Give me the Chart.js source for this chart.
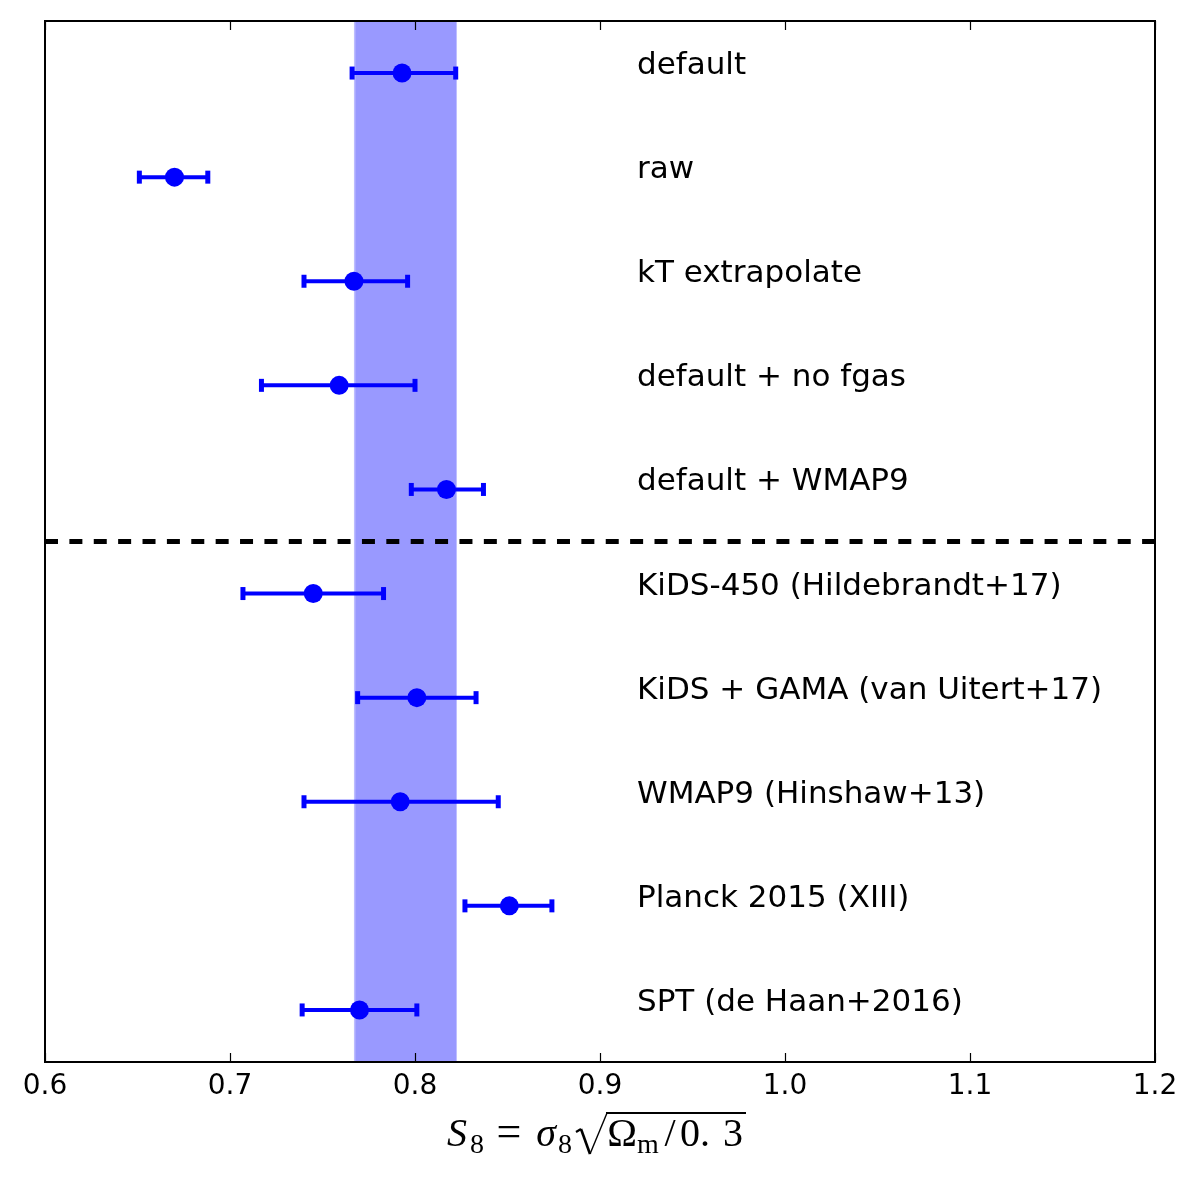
<!DOCTYPE html>
<html>
<head>
<meta charset="utf-8">
<script src="https://cdn.jsdelivr.net/npm/chart.js@4/dist/chart.umd.min.js"></script>
<style>
  html, body { margin: 0; padding: 0; background: #fff; }
  canvas { display: block; }
</style>
</head>
<body>
<canvas id="c" width="1200" height="1200"></canvas>
<script>
// ---- data ----
const categories = [
  'default',
  'raw',
  'kT extrapolate',
  'default + no fgas',
  'default + WMAP9',
  'KiDS-450 (Hildebrandt+17)',
  'KiDS + GAMA (van Uitert+17)',
  'WMAP9 (Hinshaw+13)',
  'Planck 2015 (XIII)',
  'SPT (de Haan+2016)'
];
const centers = [0.793, 0.670, 0.767, 0.759, 0.817, 0.745, 0.801, 0.792, 0.851, 0.770];
const lows    = [0.766, 0.651, 0.740, 0.717, 0.798, 0.707, 0.769, 0.740, 0.827, 0.739];
const highs   = [0.822, 0.688, 0.796, 0.800, 0.837, 0.783, 0.833, 0.845, 0.874, 0.801];
const bandRange = [0.767, 0.8225];
const separatorAt = 4.5;
const xRange = [0.6, 1.2];
const xTickStep = 0.1;
const labelAtX = 0.92;

// ---- datasets ----
const BLUE = '#0000ff';
const datasets = [];
datasets.push({
  label: 'points',
  data: centers.map((v, i) => ({ x: v, y: i })),
  showLine: false,
  pointStyle: 'circle',
  pointRadius: 9.5,
  pointBackgroundColor: BLUE,
  pointBorderColor: BLUE,
  pointBorderWidth: 0,
  order: 0
});
centers.forEach((v, i) => {
  datasets.push({
    label: 'err' + i,
    data: [{ x: lows[i], y: i }, { x: highs[i], y: i }],
    showLine: true,
    borderColor: BLUE,
    borderWidth: 4,
    pointStyle: 'line',
    rotation: 90,
    pointRadius: 6.5,
    pointBorderColor: BLUE,
    pointBorderWidth: 5,
    order: 1
  });
});
datasets.push({
  label: 'separator',
  data: [{ x: xRange[0], y: separatorAt }, { x: xRange[1], y: separatorAt }],
  showLine: true,
  borderColor: '#000',
  borderWidth: 5,
  borderDash: [13, 11.38],
  pointRadius: 0,
  order: 2
});

const decorPlugin = {
  id: 'decor',
  beforeDatasetsDraw(chart) {
    const { ctx, chartArea: a, scales: { x } } = chart;
    ctx.save();
    const x0 = x.getPixelForValue(bandRange[0]);
    const x1 = x.getPixelForValue(bandRange[1]);
    ctx.fillStyle = 'rgba(0,0,255,0.4)';
    ctx.fillRect(x0, a.top, x1 - x0, a.bottom - a.top);
    ctx.fillStyle = 'rgba(255,255,255,0.35)';
    ctx.fillRect(x0, a.top, 1.5, a.bottom - a.top);
    ctx.restore();
  },
  afterDatasetsDraw(chart) {
    const { ctx, chartArea: a, scales: { x, y } } = chart;
    ctx.save();
    // tick marks (inward, bottom and top)
    ctx.strokeStyle = '#000';
    ctx.lineWidth = 1.2;
    x.ticks.forEach(t => {
      const px = Math.round(x.getPixelForValue(t.value)) + 0.5;
      ctx.beginPath();
      ctx.moveTo(px, a.bottom); ctx.lineTo(px, a.bottom - 9);
      ctx.moveTo(px, a.top); ctx.lineTo(px, a.top + 9);
      ctx.stroke();
    });
    // frame
    ctx.lineWidth = 2;
    ctx.strokeRect(a.left, a.top, a.right - a.left, a.bottom - a.top);
    // row labels
    ctx.fillStyle = '#000';
    ctx.font = '31px "DejaVu Sans"';
    ctx.textAlign = 'left';
    ctx.textBaseline = 'alphabetic';
    const lx = x.getPixelForValue(labelAtX);
    categories.forEach((c, i) => {
      ctx.fillText(c, lx, y.getPixelForValue(i) + 1);
    });
    // axis title: S_8 = sigma_8 sqrt(Omega_m / 0.3), laid out from the plot centre
    const base = 1146;
    const serif = '"Liberation Serif", "DejaVu Serif", serif';
    const ox = (a.left + a.right) / 2 - 155; // title start
    const big = `40px ${serif}`, bigI = `italic 40px ${serif}`, sub = `28px ${serif}`;
    const pieces = [
      { t: 'S', f: bigI, dx: 12, dy: 0 },
      { t: '8', f: sub, dx: 32, dy: 7 },
      { t: '=', f: `44px ${serif}`, dx: 64, dy: 0 },
      { t: 'σ', f: bigI, dx: 101, dy: 0 },
      { t: '8', f: sub, dx: 120, dy: 7 },
      { t: 'Ω', f: big, dx: 177, dy: 0 },
      { t: 'm', f: sub, dx: 203, dy: 7 },
      { t: '/', f: big, dx: 225, dy: 0 },
      { t: '0', f: big, dx: 245, dy: 0 },
      { t: '.', f: big, dx: 260, dy: 0 },
      { t: '3', f: big, dx: 288, dy: 0 }
    ];
    ctx.textAlign = 'center';
    pieces.forEach(p => {
      ctx.font = p.f;
      ctx.fillText(p.t, ox + p.dx, base + p.dy);
    });
    // radical sign and bar
    ctx.lineJoin = 'miter';
    ctx.beginPath();
    ctx.moveTo(ox + 131, base - 14);
    ctx.lineTo(ox + 136, base - 17);
    ctx.lineWidth = 2.2;
    ctx.stroke();
    ctx.beginPath();
    ctx.lineWidth = 2.6;
    ctx.moveTo(ox + 136, base - 17);
    ctx.lineTo(ox + 145, base + 8);
    ctx.stroke();
    ctx.beginPath();
    ctx.lineWidth = 1.4;
    ctx.moveTo(ox + 145, base + 8);
    ctx.lineTo(ox + 162, base - 33);
    ctx.stroke();
    ctx.beginPath();
    ctx.lineWidth = 2;
    ctx.moveTo(ox + 161, base - 33);
    ctx.lineTo(ox + 301, base - 33);
    ctx.stroke();
    ctx.restore();
  }
};

new Chart(document.getElementById('c'), {
  type: 'scatter',
  data: { datasets },
  options: {
    responsive: false,
    animation: false,
    devicePixelRatio: 1,
    layout: { padding: { left: 45, right: 45, top: 21, bottom: 0 } },
    plugins: { legend: { display: false }, tooltip: { enabled: false } },
    scales: {
      x: {
        type: 'linear',
        min: xRange[0],
        max: xRange[1],
        grid: { display: false },
        border: { display: false },
        ticks: {
          stepSize: xTickStep,
          autoSkip: false,
          maxRotation: 0,
          color: '#000',
          padding: 0,
          font: { family: 'DejaVu Sans', size: 28 },
          callback: v => Number(v).toFixed(1)
        },
        afterFit: s => { s.height = 138; }
      },
      y: {
        type: 'linear',
        display: false,
        reverse: true,
        min: -0.5,
        max: 9.5
      }
    }
  },
  plugins: [decorPlugin]
});
</script>
</body>
</html>
